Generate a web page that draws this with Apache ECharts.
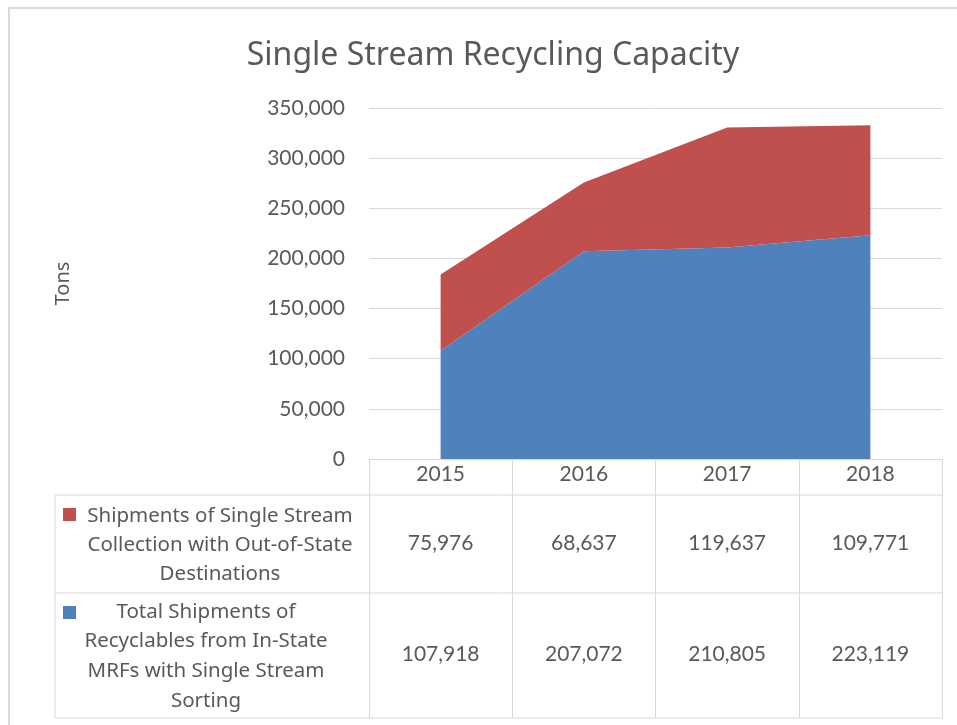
<!DOCTYPE html>
<html>
<head>
<meta charset="utf-8">
<script src="https://cdn.jsdelivr.net/npm/echarts@6/dist/echarts.min.js"></script>
<style>
  html, body { margin: 0; padding: 0; background: #fff; }
  #chart { width: 957px; height: 725px; }
</style>
</head>
<body>
<div id="chart"></div>
<script>
var years = ['2015', '2016', '2017', '2018'];
var outOfState = [75976, 68637, 119637, 109771];
var inState = [107918, 207072, 210805, 223119];
var outOfStateName = 'Shipments of Single Stream\nCollection with Out-of-State\nDestinations';
var inStateName = 'Total Shipments of\nRecyclables from In-State\nMRFs with Single Stream\nSorting';
var yTicks = { min: 0, max: 350000, step: 50000 };

var FONT = 'Lato';
var WIDE = '"Noto Sans"';
var TXT = '#595959';
var LINE = '#d9d9d9';

function fmt(v) {
    return String(v).replace(/\B(?=(\d{3})+(?!\d))/g, ',');
}

var chart = echarts.init(document.getElementById('chart'));

// extra x axes only show the data table values
function tableRowAxis(values, offset) {
    return {
        type: 'category',
        position: 'bottom',
        offset: offset,
        boundaryGap: true,
        data: values.map(fmt),
        axisLine: { show: false },
        axisTick: { show: false },
        splitLine: { show: false },
        axisLabel: { margin: 0, color: TXT, fontFamily: FONT, fontSize: 21 }
    };
}

var option = {
    backgroundColor: '#fff',
    animation: false,
    title: {
        text: 'Single Stream Recycling Capacity',
        left: 488,
        top: 35,
        textAlign: 'center',
        textStyle: { color: TXT, fontFamily: 'Noto Sans', fontSize: 32, fontWeight: 'normal' }
    },
    grid: { left: 369, right: 15, top: 108, bottom: 266 },
    xAxis: [
        {
            type: 'category',
            data: years,
            boundaryGap: true,
            axisLine: { lineStyle: { color: LINE, width: 1 } },
            axisTick: { show: true, length: 259, lineStyle: { color: LINE } },
            axisLabel: { margin: 5, color: TXT, fontFamily: FONT, fontSize: 21 }
        },
        tableRowAxis(outOfState, 74),
        tableRowAxis(inState, 185)
    ],
    yAxis: {
        type: 'value',
        name: 'Tons',
        nameLocation: 'middle',
        nameGap: 296,
        nameTextStyle: { color: TXT, fontFamily: 'Noto Sans', fontSize: 20 },
        min: yTicks.min,
        max: yTicks.max,
        interval: yTicks.step,
        axisLine: { show: false },
        axisTick: { show: false },
        axisLabel: { margin: 24, color: TXT, fontFamily: FONT, fontSize: 21, formatter: fmt },
        splitLine: { lineStyle: { color: LINE, width: 1 } }
    },
    series: [
        {
            name: inStateName,
            type: 'line',
            stack: 'total',
            data: inState,
            symbol: 'none',
            lineStyle: { width: 0 },
            areaStyle: { color: '#4F81BD', opacity: 1 },
            itemStyle: { color: '#4F81BD' }
        },
        {
            name: outOfStateName,
            type: 'line',
            stack: 'total',
            data: outOfState,
            symbol: 'none',
            lineStyle: { width: 0 },
            areaStyle: { color: '#C0504D', opacity: 1 },
            itemStyle: { color: '#C0504D' }
        }
    ],
    graphic: [
        // chart frame
        { type: 'line', shape: { x1: 8, y1: 8, x2: 957, y2: 8 }, style: { stroke: LINE, lineWidth: 2 } },
        { type: 'line', shape: { x1: 9, y1: 8, x2: 9, y2: 725 }, style: { stroke: LINE, lineWidth: 2 } },
        // data table borders
        { type: 'line', shape: { x1: 55, y1: 495, x2: 942, y2: 495 }, style: { stroke: LINE, lineWidth: 1 } },
        { type: 'line', shape: { x1: 55, y1: 593, x2: 942, y2: 593 }, style: { stroke: LINE, lineWidth: 1 } },
        { type: 'line', shape: { x1: 55, y1: 718, x2: 942, y2: 718 }, style: { stroke: LINE, lineWidth: 1 } },
        { type: 'line', shape: { x1: 55, y1: 495, x2: 55, y2: 718 }, style: { stroke: LINE, lineWidth: 1 } },
        // legend keys
        { type: 'rect', shape: { x: 63, y: 508, width: 13, height: 13 }, style: { fill: '#C0504D' } },
        { type: 'rect', shape: { x: 63, y: 606, width: 13, height: 13 }, style: { fill: '#4F81BD' } },
        {
            type: 'text', x: 220, y: 502,
            style: { text: outOfStateName, align: 'center', verticalAlign: 'top', fill: TXT, font: '20.5px ' + WIDE, lineHeight: 29 }
        },
        {
            type: 'text', x: 206, y: 597,
            style: { text: inStateName, align: 'center', verticalAlign: 'top', fill: TXT, font: '20.5px ' + WIDE, lineHeight: 29.7 }
        }
    ]
};
chart.setOption(option);
</script>
</body>
</html>
